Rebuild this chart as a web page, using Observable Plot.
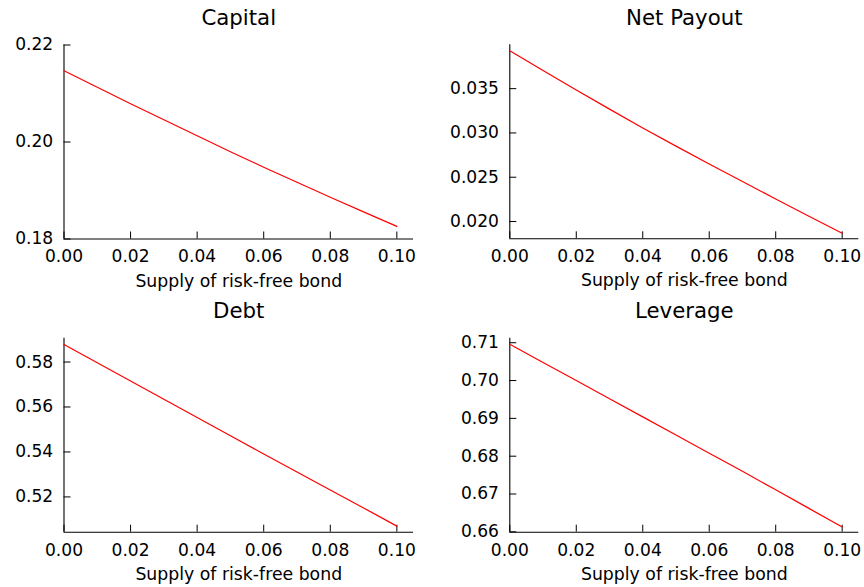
<!DOCTYPE html>
<html>
<head>
<meta charset="utf-8">
<script src="https://cdn.jsdelivr.net/npm/d3@7"></script>
<script src="https://cdn.jsdelivr.net/npm/@observablehq/plot@0.6"></script>
<style>
  body { margin: 0; background: #fff; }
  #wrap { position: relative; width: 864px; height: 587px; overflow: hidden; }
  .panel { position: absolute; }
  .panel svg { overflow: visible; }
</style>
</head>
<body>
<div id="wrap"></div>
<script>
// ---- data ----
const supply = [0, 0.01, 0.02, 0.03, 0.04, 0.05, 0.06, 0.07, 0.08, 0.09, 0.10];
const capital = [0.2147, 0.2113, 0.2079, 0.2046, 0.2013, 0.1980, 0.1948, 0.1917, 0.1886, 0.1856, 0.1826];
const netPayout = [0.03929, 0.03705, 0.03485, 0.03269, 0.03056, 0.02851, 0.02650, 0.02451, 0.02255, 0.02060, 0.01868];
const debt = [0.5878, 0.5797, 0.5716, 0.5634, 0.5553, 0.5472, 0.5391, 0.5311, 0.5231, 0.5151, 0.5070];
const leverage = [0.7096, 0.7048, 0.7000, 0.6952, 0.6904, 0.6856, 0.6808, 0.6760, 0.6711, 0.6662, 0.6613];

const titles = ["Capital", "Net Payout", "Debt", "Leverage"];
const xLabel = "Supply of risk-free bond";
const xTicks = [0, 0.02, 0.04, 0.06, 0.08, 0.10];
const capitalTicks = [0.18, 0.20, 0.22];
const netPayoutTicks = [0.020, 0.025, 0.030, 0.035];
const debtTicks = [0.52, 0.54, 0.56, 0.58];
const leverageTicks = [0.66, 0.67, 0.68, 0.69, 0.70, 0.71];

// ---- layout ----
const xDomain = [0, 0.105];
const panels = [
  {title: titles[0], values: capital, yDomain: [0.18, 0.22], yTicks: capitalTicks, fmt: ".2f",
   left: 0, top: 0, width: 432, height: 290, mL: 63.5, mR: 19, mT: 44.5, mB: 51.5},
  {title: titles[1], values: netPayout, yDomain: [0.01805, 0.03995], yTicks: netPayoutTicks, fmt: ".3f",
   left: 432, top: 0, width: 432, height: 290, mL: 77.3, mR: 5.7, mT: 44.3, mB: 51.7},
  {title: titles[2], values: debt, yDomain: [0.5043, 0.5906], yTicks: debtTicks, fmt: ".2f",
   left: 0, top: 290, width: 432, height: 297, mL: 63.5, mR: 19, mT: 47.7, mB: 55.3},
  {title: titles[3], values: leverage, yDomain: [0.6599, 0.7112], yTicks: leverageTicks, fmt: ".2f",
   left: 432, top: 290, width: 432, height: 297, mL: 77.3, mR: 5.7, mT: 47.7, mB: 55.3}
];

const wrap = document.getElementById("wrap");
for (const p of panels) {
  const data = supply.map((x, i) => ({x, y: p.values[i]}));
  const chart = Plot.plot({
    width: p.width, height: p.height,
    marginLeft: p.mL, marginRight: p.mR, marginTop: p.mT, marginBottom: p.mB,
    style: {fontFamily: "DejaVu Sans", color: "#000", background: "transparent", overflow: "visible"},
    x: {domain: xDomain},
    y: {domain: p.yDomain},
    marks: [
      Plot.ruleX([xDomain[0]], {stroke: "#000", strokeWidth: 1.1}),
      Plot.ruleY([p.yDomain[0]], {stroke: "#000", strokeWidth: 1.1}),
      Plot.axisX(xTicks, {anchor: "bottom", tickSize: -7, tickPadding: 18.3, tickFormat: d3.format(".2f"),
        fontSize: 17.1, label: null, stroke: "#000"}),
      Plot.axisY(p.yTicks, {anchor: "left", tickSize: -7, tickPadding: 17.8, tickFormat: d3.format(p.fmt),
        fontSize: 17.1, label: null, stroke: "#000"}),
      Plot.line(data, {x: "x", y: "y", stroke: "#ff0000", strokeWidth: 1.2}),
      Plot.text([p.title], {text: d => d, frameAnchor: "top", lineAnchor: "bottom", dy: -19.8,
        fontSize: 21.3, fill: "#000"}),
      Plot.text([xLabel], {text: d => d, frameAnchor: "bottom", lineAnchor: "bottom", dy: 47.5,
        fontSize: 17.3, fill: "#000"})
    ]
  });
  const div = document.createElement("div");
  div.className = "panel";
  div.style.left = p.left + "px";
  div.style.top = p.top + "px";
  div.appendChild(chart);
  wrap.appendChild(div);
}
</script>
</body>
</html>
